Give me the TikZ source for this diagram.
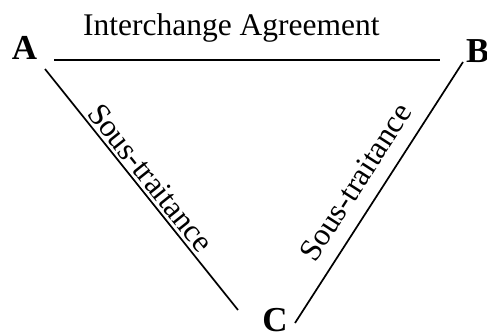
\documentclass[tikz,border=0pt]{standalone}
\usepackage{fontspec}
\setmainfont{Liberation Serif}
\usetikzlibrary{calc}
\begin{document}
\begin{tikzpicture}[x=1pt,y=-1pt,
  edge/.style={line width=1.7pt},
  lab/.style={inner sep=0pt,font=\fontsize{31.5}{36}\selectfont},
  vert/.style={inner sep=0pt,anchor=base,font=\fontsize{35}{40}\selectfont\bfseries}]
\useasboundingbox (0,0) rectangle (487,332);
% vertex labels
\node[vert] (A) at (24.5,59) {A};
\node[vert] (B) at (477.7,62) {B};
\node[vert] (C) at (275,331) {C};
% line end points
\coordinate (ab1) at (54,60);
\coordinate (ab2) at (440,60);
\coordinate (ac1) at (45,69);
\coordinate (ac2) at (238,310);
\coordinate (cb1) at (295,323);
\coordinate (cb2) at (463,62);
% connectors
\draw[edge] (ab1) -- (ab2);
\draw[edge] (ac1) -- (ac2);
\draw[edge] (cb1) -- (cb2);
% labels
\node[lab,anchor=base] (t1) at (231.3,35) {Interchange Agreement};
\coordinate (lm) at ($(ac1)!0.489!(ac2)$);
\node[lab,anchor=base,rotate=-51.31] (t2) at ($(lm)!4pt!90:(ac2)$) {Sous-traitance};
\coordinate (rm) at ($(cb1)!0.487!(cb2)$);
\node[lab,anchor=base,rotate=57.24] (t3) at ($(rm)!15pt!90:(cb2)$) {Sous-traitance};
\end{tikzpicture}
\end{document}
